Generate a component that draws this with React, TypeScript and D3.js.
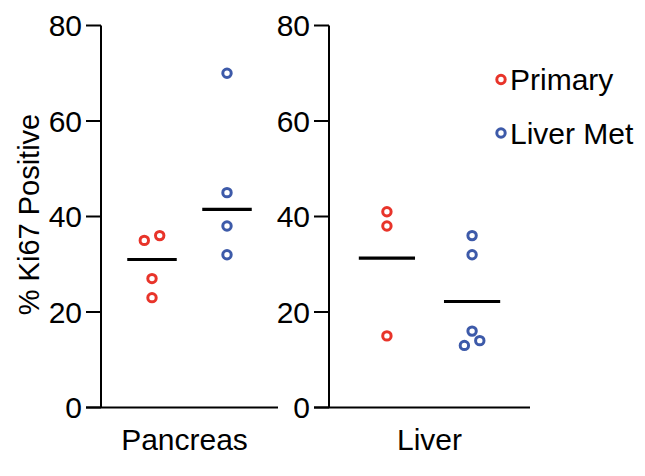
import * as d3 from 'd3';

// y-axis ticks
const yTicks = [0, 20, 40, 60, 80];

// tissue panels and the two sample groups
const panels = ['Pancreas', 'Liver'];
const groups = ['Primary', 'Liver Met'];
const groupColors = ['#e8342a', '#3d5aa9'];

// % Ki67 positive, per point
const pancreasPrimary = [35, 36, 27, 23];
const pancreasMet = [70, 45, 38, 32];
const liverPrimary = [41, 38, 15];
const liverMet = [36, 32, 16, 13, 14];

// jitter slot of each point (-1 left, 0 centre, 1 right), as in the figure
const pancreasPrimaryJitter = [-1, 1, 0, 0];
const pancreasMetJitter = [0, 0, 0, 0];
const liverPrimaryJitter = [0, 0, 0];
const liverMetJitter = [0, 0, 0, -1, 1];

// centre line of each group
const pancreasLines = [31, 41.5];
const liverLines = [31.3, 22.2];

const panelValues = [
    [pancreasPrimary, pancreasMet],
    [liverPrimary, liverMet],
];
const panelJitter = [
    [pancreasPrimaryJitter, pancreasMetJitter],
    [liverPrimaryJitter, liverMetJitter],
];
const panelLines = [pancreasLines, liverLines];

const font = '"Liberation Sans", Arial, Helvetica, sans-serif';

function App() {
    const width = 645;
    const height = 476;

    const y = d3.scaleLinear().domain([0, 80]).range([407.5, 25.5]);

    // each panel: axis left edge and right end of the baseline
    const panelRanges = [
        [101, 278],
        [329, 530],
    ];

    const markR = 4.2;
    const jitterStep = 7.7;

    return (
        <svg
            width={width}
            height={height}
            style={{ position: 'absolute', left: 0, top: 0, background: '#fff' }}
            fontFamily={font}
        >
            {/* y-axis title */}
            <text
                transform={`translate(39,${y(40) - 2}) rotate(-90)`}
                textAnchor="middle"
                fontSize={29}
                fill="#000"
            >
                % Ki67 Positive
            </text>

            {panels.map((name, p) => {
                const [x0, x1] = panelRanges[p];
                const x = d3.scalePoint<string>()
                    .domain(groups)
                    .range([x0, x1])
                    .padding(0.68);
                const cx = (g: string) => x(g) as number;
                const lineHalf = x.step() * 0.33;
                return (
                    <g key={name}>
                        {/* axes */}
                        <line x1={x0} x2={x0} y1={y(80)} y2={y(0)} stroke="#000" strokeWidth={2} />
                        <line x1={x0 - 15} x2={x1} y1={y(0)} y2={y(0)} stroke="#000" strokeWidth={2} />
                        {yTicks.map(t => (
                            <g key={t}>
                                <line x1={x0 - 15} x2={x0} y1={y(t)} y2={y(t)} stroke="#000" strokeWidth={2} />
                                <text
                                    x={x0 - 19}
                                    y={y(t)}
                                    dy="0.36em"
                                    textAnchor="end"
                                    fontSize={30}
                                    fill="#000"
                                >
                                    {t}
                                </text>
                            </g>
                        ))}
                        <text
                            x={(x0 + x1) / 2 - (p === 0 ? 5 : 0)}
                            y={450}
                            textAnchor="middle"
                            fontSize={30}
                            fill="#000"
                        >
                            {name}
                        </text>

                        {groups.map((g, gi) => (
                            <g key={g}>
                                <line
                                    x1={cx(g) - lineHalf}
                                    x2={cx(g) + lineHalf}
                                    y1={y(panelLines[p][gi])}
                                    y2={y(panelLines[p][gi])}
                                    stroke="#000"
                                    strokeWidth={3.2}
                                />
                                {panelValues[p][gi].map((v, i) => (
                                    <circle
                                        key={i}
                                        cx={cx(g) + panelJitter[p][gi][i] * jitterStep}
                                        cy={y(v)}
                                        r={markR}
                                        fill="#fff"
                                        stroke={groupColors[gi]}
                                        strokeWidth={3}
                                    />
                                ))}
                            </g>
                        ))}
                    </g>
                );
            })}

            {/* legend */}
            {groups.map((g, i) => (
                <g key={g} transform={`translate(501,${79.5 + i * 53.5})`}>
                    <circle r={markR} fill="#fff" stroke={groupColors[i]} strokeWidth={3} />
                    <text x={9} y={0} dy="0.36em" fontSize={30} fill="#000">{g}</text>
                </g>
            ))}
        </svg>
    );
}

export default App;
